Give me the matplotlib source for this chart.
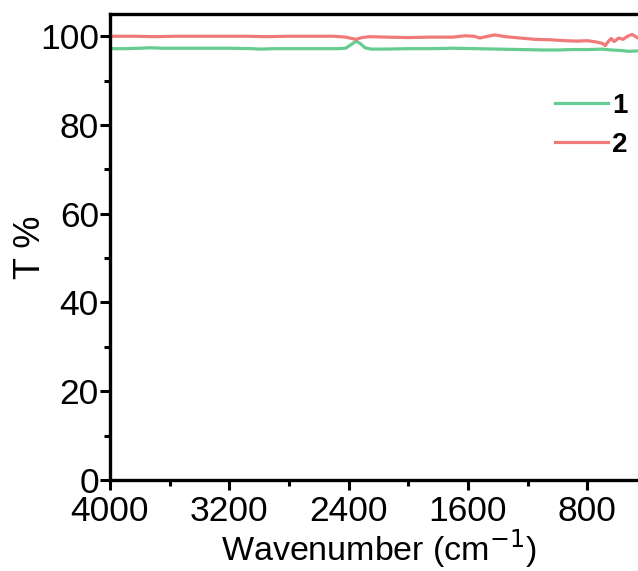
"""
FTIR transmittance spectra of samples 1 and 2.
"""

import matplotlib.pyplot as plt
from matplotlib.ticker import MultipleLocator

plt.rcParams["font.family"] = ["Liberation Sans", "DejaVu Sans"]

GREEN = "#66cc90"
RED = "#f07a7a"

# sample 1 (green)
wn_1 = [4000, 3900, 3800, 3730, 3650, 3500, 3350, 3200, 3050, 2990, 2900,
        2750, 2600, 2470, 2420, 2380, 2350, 2320, 2290, 2250, 2150, 2000,
        1850, 1700, 1550, 1400, 1250, 1100, 1000, 900, 800, 700, 640, 580,
        520, 460, 400]
t_1 = [97.2, 97.2, 97.3, 97.4, 97.3, 97.3, 97.3, 97.3, 97.2, 97.1, 97.2,
       97.2, 97.2, 97.2, 97.3, 98.2, 98.9, 98.3, 97.4, 97.1, 97.1, 97.2,
       97.2, 97.3, 97.2, 97.1, 97.0, 96.9, 96.9, 97.0, 97.0, 97.1, 96.9,
       96.8, 96.6, 96.7, 96.6]

# sample 2 (red)
wn_2 = [4000, 3850, 3700, 3550, 3400, 3250, 3100, 2950, 2800, 2650, 2500,
        2420, 2380, 2350, 2310, 2260, 2150, 2000, 1850, 1700, 1620, 1560,
        1520, 1480, 1420, 1350, 1250, 1150, 1050, 950, 870, 800, 740, 700,
        680, 660, 640, 620, 590, 560, 530, 500, 470, 440, 400]
t_2 = [100.0, 100.0, 99.9, 100.0, 100.0, 100.0, 100.0, 99.9, 100.0, 100.0,
       100.0, 99.8, 99.5, 99.3, 99.7, 99.9, 99.8, 99.7, 99.8, 99.8, 100.1,
       100.0, 99.6, 99.9, 100.3, 99.9, 99.6, 99.3, 99.2, 99.0, 98.9, 99.0,
       98.7, 98.4, 97.9, 98.8, 99.5, 98.8, 99.6, 99.3, 100.0, 100.4, 99.8,
       99.2, 99.0]

LABELS = ["1", "2"]


def plot_spectra() -> None:
    """
    Draw the two transmittance curves on a reversed wavenumber axis.
    """

    fig = plt.figure(figsize=(6.38, 5.71), dpi=100)
    ax = fig.add_axes([0.1724, 0.1594, 0.8417, 0.816])

    ax.plot(wn_1, t_1, color=GREEN, linewidth=2.3, label=LABELS[0])
    ax.plot(wn_2, t_2, color=RED, linewidth=2.3, label=LABELS[1])

    ax.set_xlim(4000, 400)
    ax.set_ylim(0, 105)
    ax.xaxis.set_major_locator(MultipleLocator(800))
    ax.xaxis.set_minor_locator(MultipleLocator(400))
    ax.yaxis.set_major_locator(MultipleLocator(20))
    ax.yaxis.set_minor_locator(MultipleLocator(10))

    for spine in ax.spines.values():
        spine.set_linewidth(2.4)
    ax.tick_params(axis="both", which="major", direction="out", length=7,
                   width=2.2, labelsize=25.5)
    ax.tick_params(axis="x", which="major", pad=4)
    ax.tick_params(axis="y", which="major", pad=1)
    ax.tick_params(axis="both", which="minor", direction="out", length=4,
                   width=2.2)

    ax.set_xlabel("Wavenumber (cm$^{-1}$)", fontsize=24.5, labelpad=-1)
    ax.set_ylabel("T %", fontsize=26)
    ax.yaxis.set_label_coords(-0.115, 0.5)

    ax.legend(
        loc="upper left",
        bbox_to_anchor=(555 / 638, 1 - 93 / 571),
        bbox_transform=fig.transFigure,
        frameon=False,
        borderpad=0,
        borderaxespad=0,
        handlelength=1.9,
        handletextpad=0.15,
        labelspacing=0.45,
        prop={"weight": "bold", "size": 20},
    )

    fig.savefig("out.png", dpi=100)


plot_spectra()
